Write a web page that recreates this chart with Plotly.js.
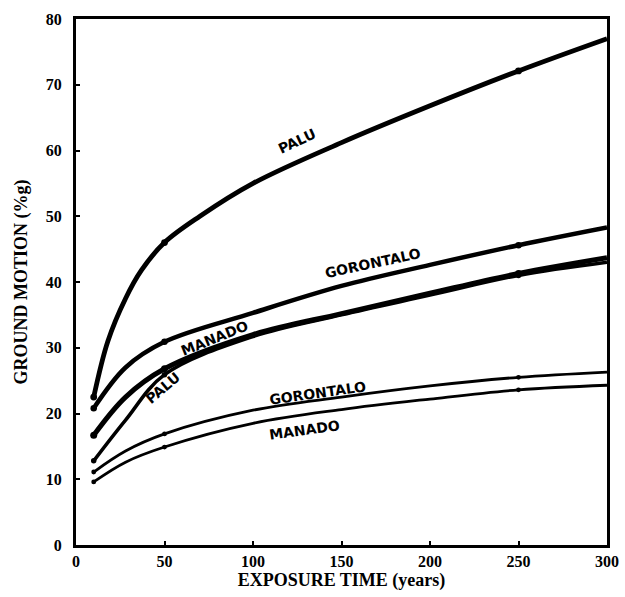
<!DOCTYPE html>
<html>
<head>
<meta charset="utf-8">
<script src="https://cdn.plot.ly/plotly-3.0.1.min.js"></script>
<style>html,body{margin:0;padding:0;background:#fff;}#chart{width:625px;height:597px;}</style>
</head>
<body>
<div id="chart"></div>
<script>
// Exposure time (years)
const xPaluUpper = [10, 18, 28, 37, 50, 70, 100, 150, 200, 250, 300];
const paluUpper  = [22.5, 31, 37.5, 41.8, 46, 50, 55, 61.2, 66.8, 72.1, 77];

const xCurve = [10, 28, 50, 100, 150, 200, 250, 300];
const gorontaloUpper = [20.8, 27, 30.9, 35.3, 39.4, 42.6, 45.6, 48.3];
const manadoUpper    = [16.7, 22.5, 26.8, 32.0, 35.2, 38.3, 41.3, 43.7];
const paluLower      = [12.8, 19, 25.9, 31.7, 35.0, 38.0, 41.0, 43.0];
const gorontaloLower = [11.1, 14.3, 16.9, 20.5, 22.5, 24.2, 25.5, 26.3];
const manadoLower    = [9.6, 12.6, 14.9, 18.5, 20.6, 22.2, 23.6, 24.3];

// Marked points (years)
const markedYears = [10, 50, 250];

const labelTexts = ["PALU", "GORONTALO", "MANADO", "PALU", "GORONTALO", "MANADO"];
const labelX = [125, 168, 78.5, 49, 137, 129];
const labelY = [61.5, 42.9, 31.5, 23.9, 23.1, 17.5];
const labelAngle = [-25, -12, -22, -40, -8, -8];

const xTicks = [0, 50, 100, 150, 200, 250, 300];
const yTicks = [0, 10, 20, 30, 40, 50, 60, 70, 80];

function pick(xs, ys, keep) {
  const px = [], py = [];
  xs.forEach((v, i) => { if (keep.includes(v)) { px.push(v); py.push(ys[i]); } });
  return {x: px, y: py};
}

const series = [
  {x: xPaluUpper, y: paluUpper, w: 4.8},
  {x: xCurve, y: gorontaloUpper, w: 4.5},
  {x: xCurve, y: manadoUpper, w: 5},
  {x: xCurve, y: paluLower, w: 3.5},
  {x: xCurve, y: gorontaloLower, w: 2.8},
  {x: xCurve, y: manadoLower, w: 2.8}
];

const traces = [];
series.forEach(s => {
  traces.push({x: s.x, y: s.y, type: 'scatter', mode: 'lines',
    line: {color: '#000', width: s.w, shape: 'spline', smoothing: 1.0},
    hoverinfo: 'skip', showlegend: false});
  const m = pick(s.x, s.y, markedYears);
  traces.push({x: m.x, y: m.y, type: 'scatter', mode: 'markers',
    marker: {color: '#000', size: s.w + 2}, hoverinfo: 'skip', showlegend: false});
});

const annotations = labelTexts.map((t, i) => ({
  x: labelX[i], y: labelY[i], xref: 'x', yref: 'y', text: '<b>' + t + '</b>',
  showarrow: false, textangle: labelAngle[i],
  font: {family: 'DejaVu Sans, Arial, sans-serif', size: 14, color: '#000'}
}));

const tickFont = {family: 'Liberation Serif, Times New Roman, serif', size: 16, color: '#000', weight: 'bold'};
const titleFont = {family: 'Liberation Serif, Times New Roman, serif', size: 18, color: '#000'};

const layout = {
  width: 625, height: 597,
  margin: {l: 76, r: 18, t: 19, b: 52},
  paper_bgcolor: '#fff', plot_bgcolor: '#fff',
  showlegend: false,
  xaxis: {
    range: [0, 300], tickvals: xTicks, ticktext: xTicks.map(String),
    showgrid: false, zeroline: false,
    showline: true, mirror: true, linecolor: '#000', linewidth: 3,
    ticks: 'inside', ticklen: 4, tickwidth: 2, tickcolor: '#000',
    tickfont: tickFont,
    title: {text: '<b>EXPOSURE TIME (years)</b>', standoff: 4, font: titleFont}
  },
  yaxis: {
    range: [0, 80], tickvals: yTicks, ticktext: yTicks.map(String),
    showgrid: false, zeroline: false,
    showline: true, mirror: true, linecolor: '#000', linewidth: 3,
    ticks: 'inside', ticklen: 4, tickwidth: 2, tickcolor: '#000',
    tickfont: tickFont, ticklabelstandoff: 8,
    title: {text: '<b>GROUND MOTION (%g)</b>', standoff: 14, font: {family: titleFont.family, size: 18, color: '#000'}}
  },
  annotations: annotations
};

Plotly.newPlot('chart', traces, layout, {staticPlot: true, displayModeBar: false});
</script>
</body>
</html>
